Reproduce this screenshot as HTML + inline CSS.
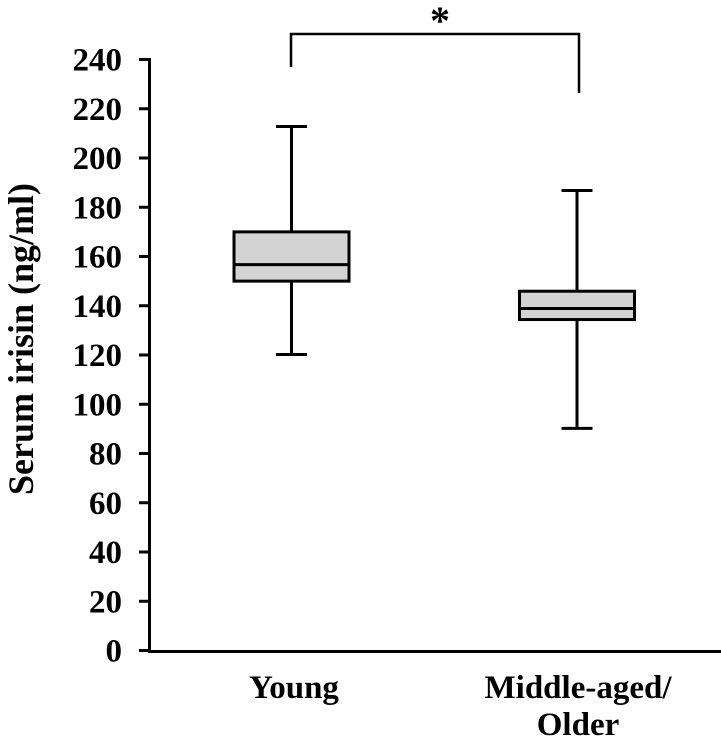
<!DOCTYPE html>
<html><head><meta charset="utf-8"><style>
body{margin:0;background:#fff}
svg text{font-family:"Liberation Serif",serif;font-weight:bold;fill:#000}
</style></head><body>
<svg id="c" width="721" height="740"></svg>
<script>
const categories=["Young","Middle-aged/Older"];
const q1=[150,134.4];
const q3=[170,145.9];
const medians=[156.7,138.9];
const whiskerLow=[120.2,90.2];
const whiskerHigh=[212.8,186.8];
const yTicks=[0,20,40,60,80,100,120,140,160,180,200,220,240];
const svg=document.getElementById('c');
const NS='http://www.w3.org/2000/svg';
const y=v=>650.5-v*2.4625;
const xc=[291.5,577];
function mk(t,a,p){const e=document.createElementNS(NS,t);for(const k in a)e.setAttribute(k,a[k]);(p||svg).appendChild(e);return e;}
yTicks.forEach(v=>{
 const g=mk('g',{});
 
 
 mk('line',{x1:139,x2:150,y1:y(v),y2:y(v),stroke:'#000','stroke-width':3},g);
 const t=mk('text',{x:122,y:y(v)+11,'text-anchor':'end','font-size':33},g);t.textContent=v;
});
const ax=mk('line',{x1:149.5,x2:149.5,y1:58,y2:652,stroke:'#000','stroke-width':3});


const xa=mk('line',{x1:148,x2:721,y1:651.5,y2:651.5,stroke:'#000','stroke-width':3});


categories.forEach((c,i)=>{
 const g=mk('g',{});
 
 
 const x=xc[i];
 mk('line',{x1:x,x2:x,y1:y(whiskerHigh[i]),y2:y(whiskerLow[i]),stroke:'#000','stroke-width':3},g);
 [whiskerHigh[i],whiskerLow[i]].forEach(v=>mk('line',{x1:x-15.5,x2:x+15.5,y1:y(v),y2:y(v),stroke:'#000','stroke-width':3},g));
 mk('rect',{x:x-57.5,y:y(q3[i]),width:115,height:y(q1[i])-y(q3[i]),fill:'#d3d3d3',stroke:'#000','stroke-width':3},g);
 mk('line',{x1:x-57.5,x2:x+57.5,y1:y(medians[i]),y2:y(medians[i]),stroke:'#000','stroke-width':3},g);
});
let t=mk('text',{x:294,y:698,'text-anchor':'middle','font-size':33});t.textContent='Young';

t=mk('text',{x:578,y:698,'text-anchor':'middle','font-size':33});t.textContent='Middle-aged/';

t=mk('text',{x:578,y:735,'text-anchor':'middle','font-size':33});t.textContent='Older';

t=mk('text',{x:0,y:0,'text-anchor':'middle','font-size':36,transform:'translate(33,339) rotate(-90)'});t.textContent='Serum irisin (ng/ml)';

const br=mk('polyline',{points:'291,67 291,34 579,34 579,93',fill:'none',stroke:'#000','stroke-width':2.5});

t=mk('text',{x:440,y:34,'text-anchor':'middle','font-size':40});t.textContent='*';

</script>
</body></html>
